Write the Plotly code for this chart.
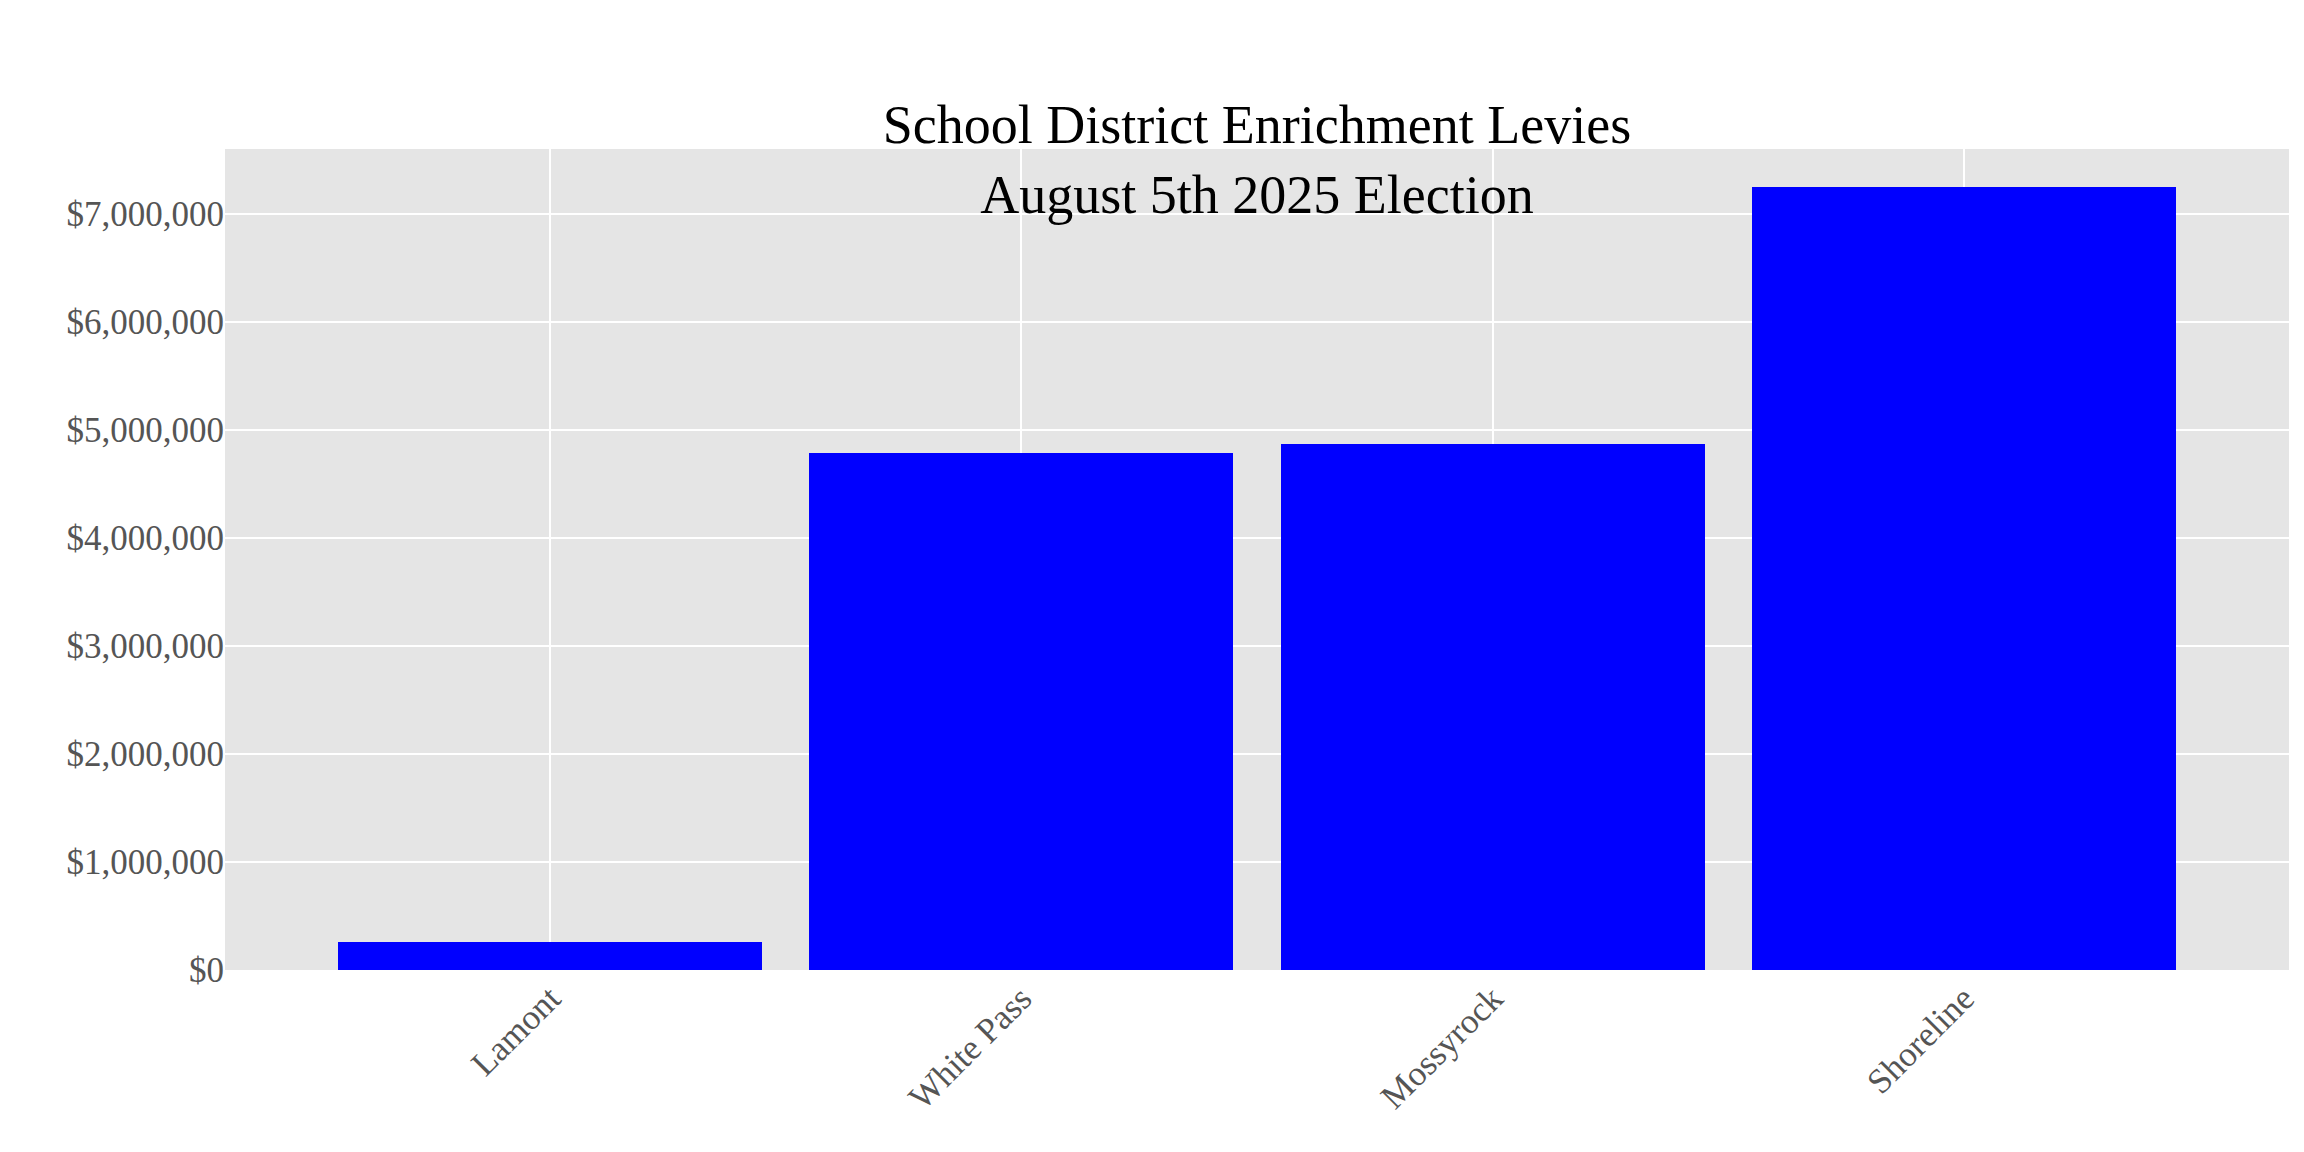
import plotly.graph_objects as go

districts = ["Lamont", "White Pass", "Mossyrock", "Shoreline"]
levy_amounts = [260000, 4790000, 4870000, 7250000]
tick_vals = [0, 1e6, 2e6, 3e6, 4e6, 5e6, 6e6, 7e6]
tick_text = ["$0", "$1,000,000", "$2,000,000", "$3,000,000",
             "$4,000,000", "$5,000,000", "$6,000,000", "$7,000,000"]

fig = go.Figure(go.Bar(x=list(range(len(districts))), y=levy_amounts,
                       width=0.9, marker=dict(color="blue", line=dict(width=0))))

fig.update_layout(
    width=2304, height=1152,
    font=dict(family="Liberation Serif", size=35, color="#555555"),
    title=dict(text="School District Enrichment Levies<br>August 5th 2025 Election",
               x=0.5, xanchor="center", xref="paper",
               y=1, yref="paper", yanchor="bottom", pad=dict(b=6),
               font=dict(size=54, color="black")),
    plot_bgcolor="#e5e5e5", paper_bgcolor="white",
    margin=dict(l=217, r=23, t=141, b=190),
    showlegend=False,
    bargap=0,
)
fig.update_xaxes(tickvals=list(range(len(districts))), ticktext=districts,
                 range=[-0.69, 3.69], tickangle=-45, showgrid=True,
                 gridcolor="white", gridwidth=1.5, ticks="", zeroline=False)
fig.update_yaxes(tickvals=tick_vals, ticktext=tick_text, range=[0, 7.6e6],
                 showgrid=True, gridcolor="white", gridwidth=1.5,
                 zeroline=False, ticks="")

fig.write_html("out.html")
